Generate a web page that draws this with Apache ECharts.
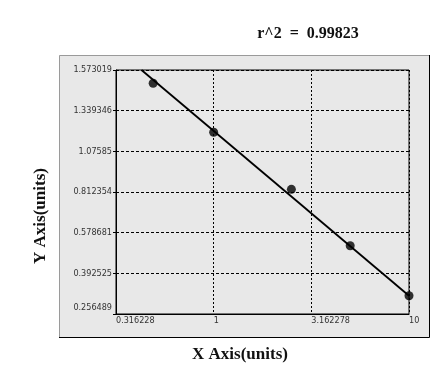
<!DOCTYPE html>
<html>
<head>
<meta charset="utf-8">
<script src="https://cdn.jsdelivr.net/npm/echarts@6/dist/echarts.min.js"></script>
<style>html,body{margin:0;padding:0;background:#fff;}#c{width:446px;height:377px;}</style>
</head>
<body>
<div id="c"></div>
<script>
// ---- data ----
const xTickLabels = ['0.316228', '1', '3.162278', '10'];
const yTickLabels = ['0.256489', '0.392525', '0.578681', '0.812354', '1.07585', '1.339346', '1.573019'];
const xData = [0.49, 1, 2.5, 5, 10];
const yData = [1.4966, 1.1992, 0.8297, 0.5189, 0.3177];
const fitX = [0.427, 10];
const fitY = [1.573019, 0.3177];
const titleText = 'r^2  =  0.99823';
const xTitle = 'X Axis(units)';
const yTitle = 'Y Axis(units)';

// ---- y scale: evenly spaced tick labels (piecewise mapping) ----
const yTicks = yTickLabels.map(Number);
function yPos(v) {
  let i = 0;
  while (i < yTicks.length - 2 && v > yTicks[i + 1]) i++;
  return i + (v - yTicks[i]) / (yTicks[i + 1] - yTicks[i]);
}

const tickFont = '"DejaVu Sans Condensed", "Liberation Sans Narrow", Arial, sans-serif';
const serif = '"Liberation Serif", "DejaVu Serif", serif';

const chart = echarts.init(document.getElementById('c'), null, {renderer: 'canvas'});
chart.setOption({
  animation: false,
  backgroundColor: '#fff',
  graphic: [
    {type: 'rect', z: -10, shape: {x: 59, y: 55, width: 370, height: 282},
     style: {fill: '#e8e8e8', stroke: null}},
    {type: 'polyline', z: -9, shape: {points: [[59.5, 337], [59.5, 55.5], [429, 55.5]]},
     style: {stroke: '#9a9a9a', lineWidth: 1, fill: null}},
    {type: 'polyline', z: -9, shape: {points: [[59, 337.5], [429.5, 337.5], [429.5, 55]]},
     style: {stroke: '#000', lineWidth: 1, fill: null}},
    {type: 'text', x: 308, y: 34,
     style: {text: titleText, fill: '#111', font: 'bold 16px ' + serif, align: 'center', verticalAlign: 'middle'}},
    {type: 'text', x: 240, y: 355,
     style: {text: xTitle, fill: '#111', font: 'bold 17px ' + serif, align: 'center', verticalAlign: 'middle'}},
    {type: 'text', x: 41, y: 216, rotation: Math.PI / 2,
     style: {text: yTitle, fill: '#111', font: 'bold 17px ' + serif, align: 'center', verticalAlign: 'middle'}}
  ],
  grid: {left: 116, top: 70, width: 293, height: 244, show: true,
         backgroundColor: '#e8e8e8', borderColor: '#000', borderWidth: 1},
  xAxis: {
    type: 'log', logBase: 10, min: 0.316228, max: 10, interval: 0.5,
    axisLine: {show: true, lineStyle: {color: '#000', width: 1}},
    axisTick: {show: false},
    splitLine: {show: true, lineStyle: {color: '#000', type: [2, 2], width: 1}},
    axisLabel: {
      fontSize: 9, color: '#333', fontFamily: tickFont, align: 'left', margin: 2,
      showMinLabel: true, showMaxLabel: true,
      formatter: function (v) {
        const i = Math.round((Math.log10(v) + 0.5) / 0.5);
        return xTickLabels[i] !== undefined ? xTickLabels[i] : '';
      }
    }
  },
  yAxis: {
    type: 'value', min: 0, max: yTickLabels.length - 1, interval: 1,
    axisLine: {show: true, lineStyle: {color: '#000', width: 1}},
    axisTick: {show: true, length: 3, lineStyle: {color: '#000'}},
    splitLine: {show: true, lineStyle: {color: '#000', type: [3, 2], width: 1}},
    axisLabel: {
      fontSize: 9, color: '#333', fontFamily: tickFont, margin: 4,
      showMinLabel: true, showMaxLabel: true,
      formatter: function (v) {
        const i = Math.round(v);
        const s = yTickLabels[i] || '';
        return i === 0 ? '{low|' + s + '}' : s;
      },
      rich: {low: {fontSize: 9, color: '#333', fontFamily: tickFont, padding: [0, 0, 12, 0]}}
    }
  },
  series: [
    {
      type: 'line', data: fitX.map((x, i) => [x, yPos(fitY[i])]),
      showSymbol: false, symbol: 'none',
      lineStyle: {color: '#000', width: 1.8}, z: 3
    },
    {
      type: 'scatter', data: xData.map((x, i) => [x, yPos(yData[i])]),
      symbol: 'circle', symbolSize: 9,
      itemStyle: {color: '#000'}, z: 4
    }
  ]
});
</script>
</body>
</html>
